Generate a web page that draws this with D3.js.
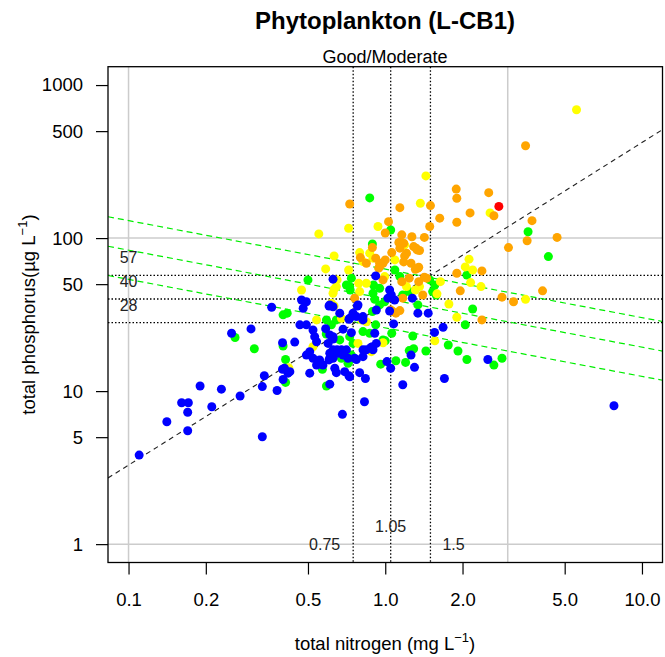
<!DOCTYPE html>
<html>
<head>
<meta charset="utf-8">
<script src="https://cdn.jsdelivr.net/npm/d3@7"></script>
<style>
  html, body { margin: 0; padding: 0; background: #fff; }
  text { font-family: "Liberation Sans", Arial, sans-serif; }
</style>
</head>
<body>
<svg id="chart" width="665" height="657"></svg>
<script>
// Site samples: [total nitrogen (mg/L), total phosphorus (µg/L)], grouped by status class
const blueSites = [
  [0.110,3.82],[0.141,6.31],[0.161,8.4],[0.171,8.4],[0.170,7.27],[0.170,5.51],[0.19,10.8],[0.211,7.91],
  [0.23,10.3],[0.272,9.29],[0.332,5.03],[0.332,10.7],[0.379,10.1],[0.338,12.6],[0.252,23.9],[0.30,25.5],
  [0.398,20.7],[0.444,20.9],[0.361,35.3],[0.398,13.9],[0.418,13.1],[0.40,11.9],[0.508,13.1],[0.608,11.1],
  [0.681,7.05],[0.83,8.52],[0.722,12.6],[0.636,14.1],[0.645,13.2],[0.795,13.2],[0.837,12.1],[0.508,18.1],
  [0.555,16],[0.54,14.8],[0.604,16],[0.608,17.7],[0.465,27.1],[0.493,27.1],[0.523,25.1],[0.531,22.7],
  [0.586,25.6],[0.626,21.9],[0.722,29.5],[0.772,30.7],[0.685,25.4],[0.738,24.1],[0.819,18.6],[0.675,18.6],
  [0.706,18.6],[0.649,18.6],[0.772,16.1],[0.88,19.3],[0.896,18.6],[0.472,39.4],[0.493,38.4],[0.479,34.8],
  [0.604,36],[0.626,53.9],[0.779,36],[0.918,56.6],[1.04,45.8],[1.056,42.5],[1.024,40.5],[1.088,39.4],
  [1.04,33.4],[1.275,40.5],[1.34,32.3],[1.47,32.3],[1.68,26.1],[1.556,24.2],[2.51,16.1],[1.70,12.1],
  [1.17,11],[7.78,8.03],[1.26,17.2],[1.30,14.3],[1.015,15.6],[1.05,14.1],[1.078,27.5],[0.91,23.9],
  [0.891,19.5],[0.923,20.5],[0.626,35.6],[0.665,32.3],[0.727,29.9],[0.749,32.3],[0.783,36.6],[0.819,30.7],
  [0.819,29.2],[0.923,33.9],[0.626,22.7],[0.626,18.6],[0.655,17.7],[0.685,17.2],[0.844,18.6],[0.54,21],
  [0.608,23.3],[0.599,20.5],[0.493,17.2],[0.523,16.4],[0.572,14.8],[0.608,16.4],[0.405,14.1],[0.425,13.4],
  [0.695,13.4],[0.727,12.4],[0.626,16.4],[0.716,16.4],[0.76,16.4],[0.819,16.8],[0.608,36.6]
];
const greenSites = [
  [0.87,183],[1.05,113],[3.60,110],[0.891,91.6],[4.32,75.7],[2.08,57.4],[1.09,61.9],[0.90,49.4],
  [1.34,36.6],[2.19,34.4],[2.05,27.1],[1.28,22.9],[1.76,20],[1.92,18.3],[2.08,16.1],[2.65,14.8],
  [2.85,16.4],[1.44,18.3],[1.24,18.4],[1.29,18.9],[1.20,15.4],[1.10,15.8],[0.96,15],[1.06,23.9],
  [1.00,21.3],[0.918,27.1],[0.891,33.1],[0.995,38.4],[0.91,39.8],[0.50,53.3],[0.727,48.2],[0.73,45.8],
  [0.896,43.6],[0.951,47],[1.17,42.5],[1.24,44.7],[1.14,56],[1.49,53.3],[1.56,49.4],[1.53,44.7],
  [1.58,42.5],[0.706,49.4],[0.951,36.6],[0.819,24.5],[0.87,23.9],[0.727,22.7],[0.749,20.5],[0.98,21.6],
  [0.738,17.2],[0.675,16.4],[0.716,15.2],[0.40,31.5],[0.415,32.3],[0.59,29.2],[0.617,27.1],[0.645,29.2],
  [0.589,23.6],[0.665,21.6],[0.26,22.4],[0.309,18.9],[0.40,19.7],[0.409,16.1],[0.409,11.4],[0.59,10.8],
  [0.569,13.9],[0.681,17],[0.72,15.6],[0.738,54.7]
];
const yellowSites = [
  [5.56,690],[1.44,255],[1.37,169],[2.56,146],[0.937,119],[0.72,116],[0.551,106.5],[2.12,72.8],
  [2.05,64.8],[2.19,61.9],[1.64,51.9],[2.15,51.2],[2.36,48.2],[1.59,43.2],[3.52,39.8],[1.77,37.1],
  [1.90,30.4],[1.56,21.3],[0.795,80.4],[0.87,79.7],[0.896,73.9],[0.819,70.2],[0.632,76.5],[0.586,62.9],
  [0.72,61.9],[0.649,53.3],[0.788,50.7],[0.844,50.7],[0.472,45.8],[0.632,46.3],[0.626,43.6],[0.617,37.5],
  [0.632,36],[1.09,72],[1.19,90.3],[0.995,56],[1.21,48.2],[1.31,45.8],[1.36,48.2],[0.795,44.7],
  [0.675,29.9],[0.808,29.2],[0.844,28.4],[0.54,29.2],[0.783,20.5],[0.98,20.7],[0.883,18.1],[0.523,19.5],
  [0.421,14.2],[0.645,48.2]
];
const orangeSites = [
  [3.52,401],[1.89,209],[1.90,182],[2.53,198],[1.50,163],[1.14,158],[0.727,167],[1.63,135],
  [2.14,146],[2.65,140],[1.90,127],[3.73,130],[1.03,128],[1.49,119],[1.00,108],[1.16,105],
  [1.27,102],[1.42,101],[4.67,101],[3.57,96],[1.13,93.5],[1.18,92.6],[1.29,88],[1.33,83.7],
  [1.36,82.9],[3.02,86.7],[1.06,80.4],[1.19,76.5],[1.18,69.9],[1.00,72],[0.951,68.5],[0.891,86.7],
  [0.80,74.6],[0.844,68.5],[0.918,73.9],[0.98,68.5],[0.951,65.1],[1.21,79.7],[1.26,68.5],[1.34,63.6],
  [1.14,85.9],[1.32,85.9],[1.35,64.5],[1.31,62.6],[0.943,63.6],[2.38,61],[1.90,58.9],[1.42,55.5],
  [1.96,45.2],[4.10,45.2],[2.85,41.1],[3.16,38.4],[1.40,42.5],[0.98,53.3],[1.16,51.9],[1.24,54.7],
  [1.35,51.9],[1.45,54.7],[1.17,40.5],[0.76,40.5],[1.05,33.9],[1.14,33.6],[1.07,33.1],[1.10,32.3],
  [2.38,29.2]
];
const redSites = [[2.77,161]];

// Class groups in drawing order
const groups = [
  { sites: greenSites,  color: "#00ff00" },
  { sites: yellowSites, color: "#ffff00" },
  { sites: orangeSites, color: "#ffa500" },
  { sites: blueSites,   color: "#0000ff" },
  { sites: redSites,    color: "#ff0000" }
];

// Axis ticks
const xTicks = [0.1, 0.2, 0.5, 1, 2, 5, 10];
const xTickLabels = ["0.1", "0.2", "0.5", "1.0", "2.0", "5.0", "10.0"];
const yTicks = [1, 5, 10, 50, 100, 500, 1000];
const yTickLabels = ["1", "5", "10", "50", "100", "500", "1000"];

// Reference grid lines
const gridTN = [0.1, 3];
const gridTP = [1, 100];

// Good/Moderate boundary values
const tnBounds = [0.75, 1.05, 1.5];
const tpBounds = [57, 40, 28];

// Fitted TP ~ TN line (log-log): value at TN = 1 and slope
const fitLine = { at1: 37.2, slope: 1.054 };
// Boundary lines for TP at given TN: value at TN = 1 and common slope
const boundaryAt1 = [62.7, 40.2, 25.9];
const boundarySlope = -0.317;

const W = 665, H = 657;
const box = { left: 108, right: 662.5, top: 66.7, bottom: 562.5 };

const svg = d3.select("#chart");
svg.append("rect").attr("width", W).attr("height", H).attr("fill", "#fff");

const x = d3.scaleLog().domain([Math.pow(10, -1.08), Math.pow(10, 1.08)]).range([box.left, box.right]);
const y = d3.scaleLog().domain([Math.pow(10, -0.12), Math.pow(10, 3.12)]).range([box.bottom, box.top]);

svg.append("clipPath").attr("id", "plotclip")
  .append("rect")
  .attr("x", box.left).attr("y", box.top)
  .attr("width", box.right - box.left).attr("height", box.bottom - box.top);

const plot = svg.append("g").attr("clip-path", "url(#plotclip)");

// light grey reference grid
plot.selectAll("line.gx").data(gridTN).join("line")
  .attr("x1", d => x(d)).attr("x2", d => x(d))
  .attr("y1", box.top).attr("y2", box.bottom)
  .attr("stroke", "#cccccc").attr("stroke-width", 1.5);
plot.selectAll("line.gy").data(gridTP).join("line")
  .attr("y1", d => y(d)).attr("y2", d => y(d))
  .attr("x1", box.left).attr("x2", box.right)
  .attr("stroke", "#cccccc").attr("stroke-width", 1.5);

// dotted boundary lines
plot.selectAll("line.vb").data(tnBounds).join("line")
  .attr("x1", d => x(d)).attr("x2", d => x(d))
  .attr("y1", box.top).attr("y2", box.bottom)
  .attr("stroke", "#000").attr("stroke-width", 1.3).attr("stroke-dasharray", "1.5,2");
plot.selectAll("line.hb").data(tpBounds).join("line")
  .attr("y1", d => y(d)).attr("y2", d => y(d))
  .attr("x1", box.left).attr("x2", box.right)
  .attr("stroke", "#000").attr("stroke-width", 1.3).attr("stroke-dasharray", "1.5,2");

const [tnMin, tnMax] = x.domain();
function powerLine(at1, slope) {
  return [[tnMin, at1 * Math.pow(tnMin, slope)], [tnMax, at1 * Math.pow(tnMax, slope)]];
}
const lineGen = d3.line().x(d => x(d[0])).y(d => y(d[1]));

// green boundary lines
plot.selectAll("path.bnd").data(boundaryAt1).join("path")
  .attr("d", d => lineGen(powerLine(d, boundarySlope)))
  .attr("fill", "none").attr("stroke", "#00ee00").attr("stroke-width", 1.2)
  .attr("stroke-dasharray", "6,4");

// fitted line
plot.append("path")
  .attr("d", lineGen(powerLine(fitLine.at1, fitLine.slope)))
  .attr("fill", "none").attr("stroke", "#222").attr("stroke-width", 1.1)
  .attr("stroke-dasharray", "5,4");

// sample points
groups.forEach(g => {
  plot.append("g").selectAll("circle").data(g.sites).join("circle")
    .attr("cx", d => x(d[0])).attr("cy", d => y(d[1]))
    .attr("r", 4.5).attr("fill", g.color);
});

// boundary value labels
const labelSize = 16;
svg.selectAll("text.tpb").data(tpBounds).join("text")
  .attr("x", x(0.1)).attr("y", d => y(d) - 12)
  .attr("text-anchor", "middle").attr("font-size", labelSize).attr("fill", "#222")
  .text(d => d);
svg.append("text").attr("x", x(0.75) - 13).attr("y", y(1) + 6)
  .attr("text-anchor", "end").attr("font-size", labelSize).attr("fill", "#222").text("0.75");
svg.append("text").attr("x", x(1.05)).attr("y", y(1) - 12)
  .attr("text-anchor", "middle").attr("font-size", labelSize).attr("fill", "#222").text("1.05");
svg.append("text").attr("x", x(1.5) + 12).attr("y", y(1) + 6)
  .attr("text-anchor", "start").attr("font-size", labelSize).attr("fill", "#222").text("1.5");

// plot frame
svg.append("rect")
  .attr("x", box.left).attr("y", box.top)
  .attr("width", box.right - box.left).attr("height", box.bottom - box.top)
  .attr("fill", "none").attr("stroke", "#000").attr("stroke-width", 1.3);

// axes
const tickFont = 18.5;
const xAxis = svg.append("g").attr("transform", `translate(0,${box.bottom})`)
  .call(d3.axisBottom(x).tickValues(xTicks).tickFormat((d, i) => xTickLabels[i])
    .tickSize(12).tickSizeOuter(0).tickPadding(18));
const yAxis = svg.append("g").attr("transform", `translate(${box.left},0)`)
  .call(d3.axisLeft(y).tickValues(yTicks).tickFormat((d, i) => yTickLabels[i])
    .tickSize(12).tickSizeOuter(0).tickPadding(13));
[xAxis, yAxis].forEach(a => {
  a.select(".domain").remove();
  a.selectAll(".tick line").attr("stroke", "#000").attr("stroke-width", 1.2);
  a.selectAll(".tick text").attr("font-size", tickFont).attr("fill", "#000")
    .attr("font-family", "'Liberation Sans', Arial, sans-serif");
});

// titles
svg.append("text").attr("x", 385).attr("y", 28.5).attr("text-anchor", "middle")
  .attr("font-size", 24).attr("font-weight", "bold").attr("fill", "#000")
  .text("Phytoplankton (L-CB1)");
svg.append("text").attr("x", 385).attr("y", 62.5).attr("text-anchor", "middle")
  .attr("font-size", 18).attr("fill", "#000").text("Good/Moderate");

const xTitle = svg.append("text").attr("x", 385).attr("y", 650)
  .attr("text-anchor", "middle").attr("font-size", 18.5).attr("fill", "#000");
xTitle.append("tspan").text("total nitrogen (mg L");
xTitle.append("tspan").attr("font-size", 13).attr("dy", -8).text("\u22121");
xTitle.append("tspan").attr("dy", 8).text(")");

const yTitle = svg.append("text")
  .attr("transform", `translate(35,${(box.top + box.bottom) / 2}) rotate(-90)`)
  .attr("text-anchor", "middle").attr("font-size", 18.5).attr("fill", "#000");
yTitle.append("tspan").text("total phosphorus(\u00b5g L");
yTitle.append("tspan").attr("font-size", 13).attr("dy", -8).text("\u22121");
yTitle.append("tspan").attr("dy", 8).text(")");
</script>
</body>
</html>
